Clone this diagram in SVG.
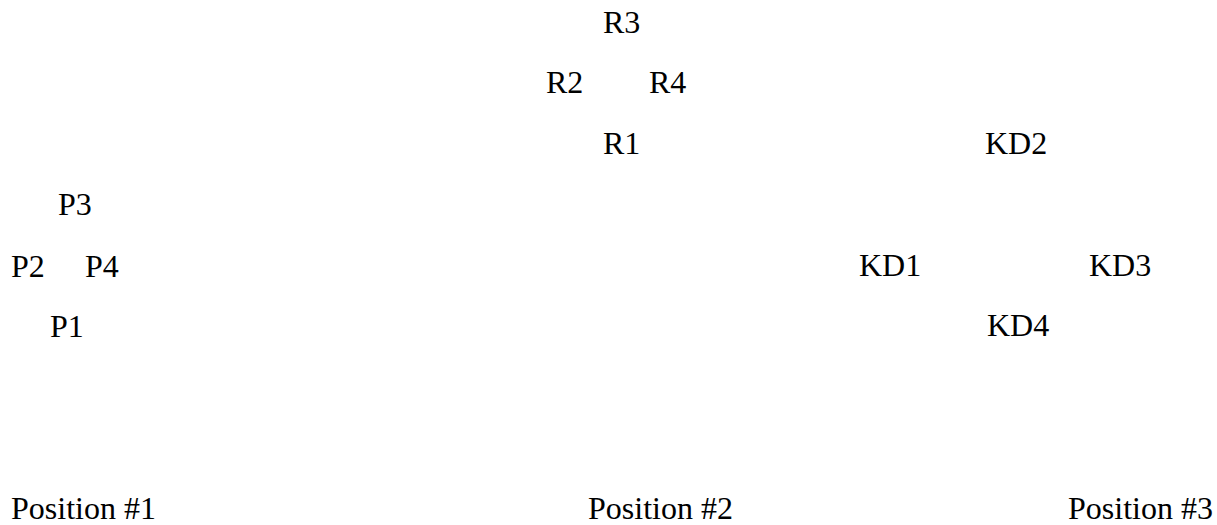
<svg xmlns="http://www.w3.org/2000/svg" width="1217" height="525" viewBox="0 0 1217 525">
<rect width="1217" height="525" fill="#fff"/>
<g id="connectors"></g>
<g font-family="Liberation Serif" font-size="32" fill="#000">
<g id="P3"><text x="58" y="215">P3</text></g>
<g id="P2"><text x="11" y="277">P2</text></g>
<g id="P4"><text x="85" y="277">P4</text></g>
<g id="P1"><text x="50" y="337">P1</text></g>
<g id="R3"><text x="603" y="33">R3</text></g>
<g id="R2"><text x="546" y="93">R2</text></g>
<g id="R4"><text x="649" y="93">R4</text></g>
<g id="R1"><text x="603" y="154">R1</text></g>
<g id="KD2"><text x="985" y="154">KD2</text></g>
<g id="KD1"><text x="859" y="276">KD1</text></g>
<g id="KD3"><text x="1089" y="276">KD3</text></g>
<g id="KD4"><text x="987" y="336">KD4</text></g>
<g id="pos1"><text x="11" y="519">Position #1</text></g>
<g id="pos2"><text x="588" y="519">Position #2</text></g>
<g id="pos3"><text x="1068" y="519">Position #3</text></g>
</g>
</svg>
